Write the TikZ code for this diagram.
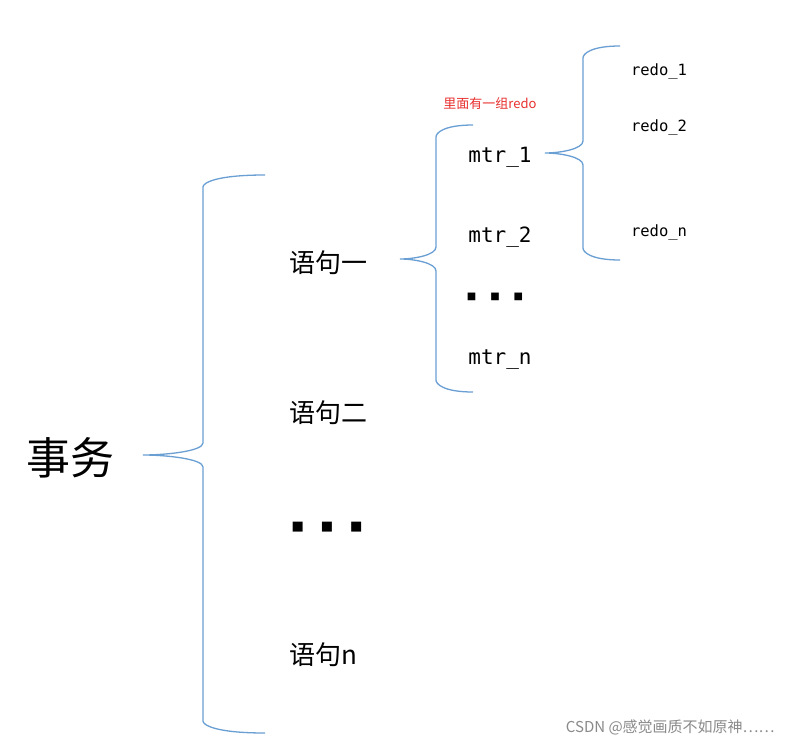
\documentclass[tikz,border=0pt]{standalone}
\usepackage{fontspec}
\usepackage{xcolor}
\usepackage{tikz}
\usetikzlibrary{positioning, calc}
\newfontfamily\cjkfont{Noto Sans CJK SC}
\newfontfamily\codefont{DejaVu Sans Mono}
\newfontfamily\symfont{DejaVu Sans}
\definecolor{braceblue}{HTML}{6A9FD4}
\definecolor{notered}{HTML}{E8302E}
\definecolor{markgray}{HTML}{8A8A8A}

% brace: #1 top end, #2 tip, #3 bottom end, #4 x of the spine
\newcommand{\bracepath}[4]{%
  \draw[bracestroke] (#1) .. controls ($(#1)!0.8!(#4|-#1)$) and ($(#4|-#1)+(0,8)$) .. ($(#4|-#1)+(0,12)$)
    -- ($(#4|-#2)+(0,-12)$) .. controls ($(#4|-#2)+(0,-4)$) and ($(#2)!0.4!(#4|-#2)$) .. (#2)
    .. controls ($(#2)!0.4!(#4|-#2)$) and ($(#4|-#2)+(0,4)$) .. ($(#4|-#2)+(0,12)$)
    -- ($(#4|-#3)+(0,-12)$) .. controls ($(#4|-#3)+(0,-8)$) and ($(#3)!0.8!(#4|-#3)$) .. (#3);}

\begin{document}
\begin{tikzpicture}[x=1pt, y=-1pt,
    bracestroke/.style={draw=braceblue, line width=1.3pt},
    bigword/.style={font=\cjkfont\fontsize{44}{48}\selectfont},
    stmt/.style={font=\cjkfont\fontsize{26}{30}\selectfont, anchor=west, inner sep=0pt},
    mtrword/.style={font=\codefont\fontsize{21}{24}\selectfont},
    redoword/.style={font=\codefont\fontsize{15.5}{18}\selectfont},
    dotrow/.style={font=\symfont\fontsize{13}{15}\selectfont}]
  \useasboundingbox[fill=white] (0,0) rectangle (794,746);

  % texts
  \node[bigword] (trx) at (70,458) {事务};
  \node[stmt] (stmtA) at (289,263) {语句一};
  \node[stmt] (stmtB) at (289,413) {语句二};
  \node[dotrow] (stmtdots) at (327,527) {■\hspace{17pt}■\hspace{17pt}■};
  \node[stmt] (stmtN) at (289,655) {语句n};

  \node[mtrword] (mtrA) at (500,157) {mtr\_1};
  \node[mtrword] (mtrB) at (500,237) {mtr\_2};
  \node[dotrow, font=\symfont\fontsize{10}{12}\selectfont] (mtrdots) at (495,297) {■\hspace{14pt}■\hspace{14pt}■};
  \node[mtrword] (mtrN) at (500,360) {mtr\_n};

  \node[redoword] (redoA) at (659,71) {redo\_1};
  \node[redoword] (redoB) at (659,127) {redo\_2};
  \node[redoword] (redoN) at (659,232) {redo\_n};

  \node[text=notered, font=\cjkfont\fontsize{13}{15}\selectfont] (note) at (490,104) {里面有一组redo};

  % braces
  \coordinate (trxtip) at (143,455);
  \coordinate (stmttop) at (265,175);
  \coordinate (stmtbot) at (265,733);
  \coordinate (stmtspine) at (203,455);
  \bracepath{stmttop}{trxtip}{stmtbot}{stmtspine}

  \coordinate (mtrtip) at (400,259);
  \coordinate (mtrtop) at (473,125);
  \coordinate (mtrbot) at (473,392);
  \coordinate (mtrspine) at (436,259);
  \bracepath{mtrtop}{mtrtip}{mtrbot}{mtrspine}

  \coordinate (redotip) at (545,153);
  \coordinate (redotop) at (620,46);
  \coordinate (redobot) at (620,260);
  \coordinate (redospine) at (583,153);
  \bracepath{redotop}{redotip}{redobot}{redospine}

  \node[text=markgray, font=\cjkfont\fontsize{15}{17}\selectfont, anchor=east] (mark) at (778,727) {CSDN @感觉画质不如原神……};
\end{tikzpicture}
\end{document}
